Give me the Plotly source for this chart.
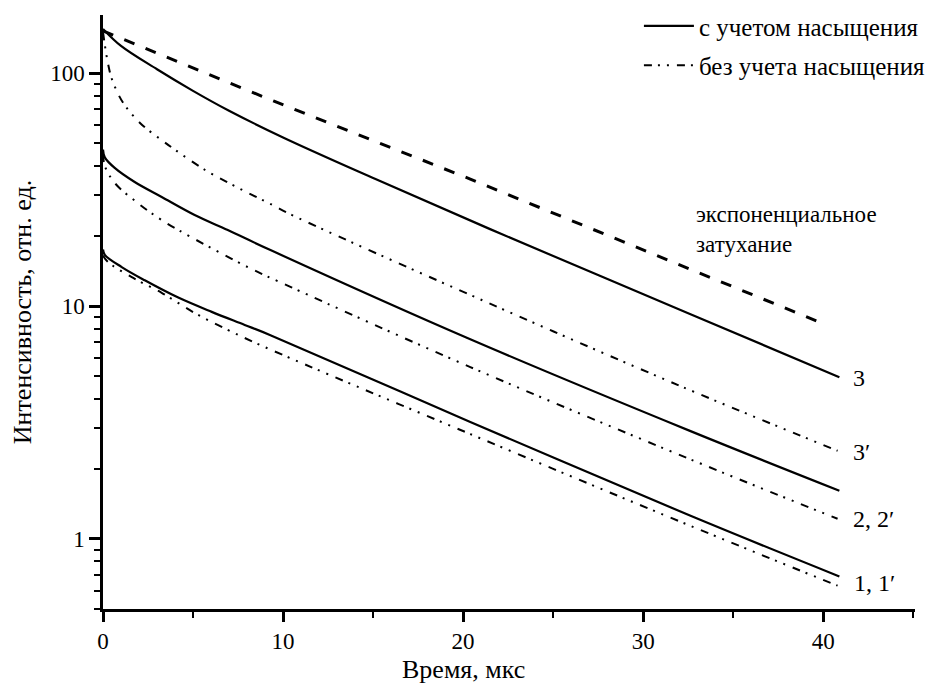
import plotly.graph_objects as go

# Time (µs) and intensity readings for each curve
exp_t = [0, 9.5, 20.4, 32.6, 40.0]
exp_i = [152, 75.8, 35.1, 14.4, 8.4]

s3_t = [0, 1, 3, 5, 7, 10, 15, 21.5, 32.6, 40.9]
s3_i = [155, 131, 104, 84, 69, 53, 35.5, 21.4, 9.25, 4.95]

d3_t = [0, 0.15, 0.3, 0.5, 1.1, 2.07, 3.26, 4.0, 5.65, 7.5, 9.4, 10.5, 21.3, 32.2, 40.8]
d3_i = [150, 125, 108, 94, 75, 61, 51.6, 46.9, 38.5, 32.2, 27.2, 24.6, 10.4, 4.49, 2.39]

s2_t = [0, 0.1, 0.65, 1.76, 3.26, 5.09, 6.93, 9.3, 20.4, 32.6, 40.9]
s2_i = [47, 43.5, 39.2, 34.1, 29.4, 24.6, 21.2, 17.4, 7.2, 2.91, 1.61]

d2_t = [0, 0.1, 0.65, 1.93, 3.26, 5.09, 8.04, 10.5, 20.4, 32.6, 40.8]
d2_i = [45, 40, 33.8, 27.7, 23.4, 19.4, 14.7, 12.0, 5.47, 2.2, 1.22]

s1_t = [0, 0.1, 1.04, 2.32, 4.15, 6.04, 7.87, 9.3, 20.4, 32.6, 40.9]
s1_i = [17.5, 16.6, 14.7, 12.9, 10.9, 9.44, 8.3, 7.5, 3.18, 1.26, 0.69]

d1_t = [0, 0.26, 1.6, 3.26, 5.09, 6.93, 8.98, 20.4, 32.6, 40.8]
d1_i = [16.5, 15.5, 13.3, 11.4, 9.34, 7.9, 6.67, 2.82, 1.14, 0.63]

x_ticks = [0, 10, 20, 30, 40]
x_minor = [5, 15, 25, 35, 45]
y_ticks = [1, 10, 100]
y_tick_text = ["1", "10", "100"]
y_minor = [0.5, 0.6, 0.7, 0.8, 0.9, 2, 3, 4, 5, 6, 7, 8, 9,
           20, 30, 40, 50, 60, 70, 80, 90]

curve_labels = ["3", "3′", "2, 2′", "1, 1′"]
label_x = [41.55, 41.55, 41.55, 41.6]
label_logy = [0.691, 0.373, 0.086, -0.189]

legend_names = ["с учетом насыщения", "без учета насыщения"]
exp_label = "экспоненциальное<br>затухание"

FONT = "Liberation Serif"
SOLID = dict(color="black", width=2.2)
DASHDOT = dict(color="black", width=2, dash="8px,6px,2px,7px,2px,8px")
DASHED = dict(color="black", width=3, dash="11px,12px")

fig = go.Figure()
fig.add_trace(go.Scatter(x=exp_t, y=exp_i, mode="lines", line=DASHED,
                         showlegend=False))
fig.add_trace(go.Scatter(x=s3_t, y=s3_i, mode="lines", line=SOLID,
                         line_shape="spline", name=legend_names[0],
                         legendgroup="a", showlegend=True))
fig.add_trace(go.Scatter(x=d3_t, y=d3_i, mode="lines", line=DASHDOT,
                         line_shape="spline", name=legend_names[1],
                         legendgroup="b", showlegend=True))
fig.add_trace(go.Scatter(x=s2_t, y=s2_i, mode="lines", line=SOLID,
                         line_shape="spline", showlegend=False))
fig.add_trace(go.Scatter(x=d2_t, y=d2_i, mode="lines", line=DASHDOT,
                         line_shape="spline", showlegend=False))
fig.add_trace(go.Scatter(x=s1_t, y=s1_i, mode="lines", line=SOLID,
                         line_shape="spline", showlegend=False))
fig.add_trace(go.Scatter(x=d1_t, y=d1_i, mode="lines", line=DASHDOT,
                         line_shape="spline", showlegend=False))

for txt, lx, ly in zip(curve_labels, label_x, label_logy):
    fig.add_annotation(x=lx, y=ly, xref="x", yref="y", text=txt,
                       showarrow=False, xanchor="left", yanchor="middle",
                       font=dict(family=FONT, size=24, color="black"))

fig.add_annotation(x=32.8, y=1.33, xref="x", yref="y", text=exp_label,
                   showarrow=False, xanchor="left", yanchor="middle",
                   align="left",
                   font=dict(family=FONT, size=23, color="black"))

fig.add_annotation(x=0.444, y=0, xref="paper", yref="paper",
                   yshift=-60, text="Время, мкс", showarrow=False,
                   xanchor="center", yanchor="middle",
                   font=dict(family=FONT, size=26, color="black"))

# page body adds an 8px margin: shrink the figure and shift by 8px
fig.update_layout(
    width=932, height=678,
    margin=dict(l=95, r=25, t=7, b=77, autoexpand=False),
    paper_bgcolor="white", plot_bgcolor="white",
    font=dict(family=FONT, size=23, color="black"),
    legend=dict(x=0.66, y=1.02, xanchor="left", yanchor="top",
                traceorder="grouped", tracegroupgap=4, itemwidth=50,
                bgcolor="rgba(0,0,0,0)", font=dict(family=FONT, size=25)),
    xaxis=dict(range=[0, 45.1], showgrid=False, zeroline=False,
               automargin=False,
               showline=True, linecolor="black", linewidth=2.5,
               ticks="outside", ticklen=10, tickwidth=2.5, tickcolor="black",
               tickvals=x_ticks, ticktext=[str(v) for v in x_ticks],
               minor=dict(ticks="outside", ticklen=6, tickwidth=2,
                          tickcolor="black", tickvals=x_minor,
                          showgrid=False),
               tickfont=dict(family=FONT, size=23)),
    yaxis=dict(type="log", range=[-0.301, 2.25], showgrid=False,
               automargin=False,
               zeroline=False, showline=True, linecolor="black",
               linewidth=2.5, ticks="outside", ticklen=11, tickwidth=2.5,
               tickcolor="black", tickvals=y_ticks, ticktext=y_tick_text,
               minor=dict(ticks="outside", ticklen=6, tickwidth=2,
                          tickcolor="black", tickvals=y_minor,
                          showgrid=False),
               title=dict(text="Интенсивность, отн. ед.",
                          font=dict(family=FONT, size=26), standoff=14),
               tickfont=dict(family=FONT, size=23)),
)

fig.write_html("out.html")
